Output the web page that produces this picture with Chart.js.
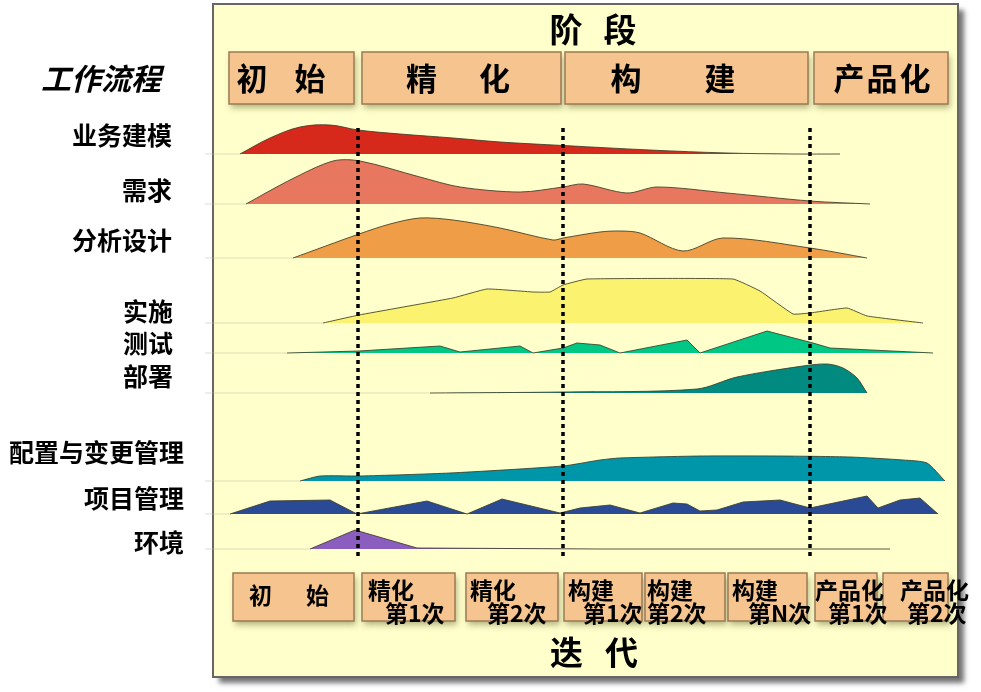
<!DOCTYPE html>
<html>
<head>
<meta charset="utf-8">
<script src="https://cdn.jsdelivr.net/npm/chart.js@4.4.0/dist/chart.umd.min.js"></script>
<style>
html, body { margin: 0; padding: 0; background: #fff; }
#wrap { position: relative; width: 981px; height: 692px; }
</style>
</head>
<body>
<div id="wrap"><canvas id="rup"></canvas></div>
<script>
// 工作流程 (disciplines) and their lane baselines on the vertical axis
var disciplines = ['业务建模', '需求', '分析设计', '实施', '测试', '部署', '配置与变更管理', '项目管理', '环境'];
var laneBase = [154, 204, 258, 323, 353, 393, 481, 514, 549];

// effort profile of each discipline: time position + height above the lane
var bizX = [240, 270, 300, 330, 358, 400, 453, 500, 563, 650, 727, 793, 840];
var bizH = [0, 16, 27, 29, 24, 20, 16, 12, 8.5, 4, 1, 0, 0];
var reqX = [246, 290, 333, 360, 420, 460, 520, 563, 583, 627, 657, 727, 810, 870];
var reqH = [0, 24, 43, 43, 27, 17, 12, 17, 20, 11, 17, 11, 3, 0];
var anaX = [293, 359, 390, 420, 453, 500, 553, 563, 600, 620, 640, 683, 723, 810, 867];
var anaH = [0, 24, 34, 40, 38, 30, 18, 20, 26, 27, 25, 7, 20, 10, 0];
var impX = [323, 359, 453, 487, 533, 550, 563, 587, 733, 760, 793, 810, 847, 867, 923];
var impH = [0, 8, 25, 34, 31, 31, 38, 44, 44, 32, 9, 10, 15, 7, 0];
var tstX = [287, 359, 440, 460, 520, 533, 563, 577, 600, 620, 687, 700, 767, 813, 830, 933];
var tstH = [0, 2, 7, 1, 7, 0, 5, 10, 8, 0, 13, 0, 22, 10, 5, 0];
var depX = [430, 563, 697, 737, 803, 827, 843, 857, 867];
var depH = [0, 1, 4, 16, 27, 29, 25, 15, 0];
var cfgX = [300, 320, 360, 450, 563, 600, 620, 700, 780, 850, 903, 927, 945];
var cfgH = [0, 5, 5, 8, 15, 21, 23, 25, 25, 24, 21, 18, 0];
var pmX = [230, 270, 330, 357, 427, 467, 502, 560, 580, 610, 640, 673, 687, 700, 717, 743, 780, 810, 867, 878, 900, 920, 938];
var pmH = [0, 13, 14, 0, 13, 0, 15, 1, 6, 9, 1, 11, 10, 3, 4, 12, 14, 6, 18, 6, 14, 16, 0];
var envX = [310, 355, 417, 600, 890];
var envH = [0, 19, 1, 0, 0];

var profX = [bizX, reqX, anaX, impX, tstX, depX, cfgX, pmX, envX];
var profH = [bizH, reqH, anaH, impH, tstH, depH, cfgH, pmH, envH];
var curve = [0.35, 0.3, 0.3, 0.1, 0, 0.3, 0.2, 0, 0];
var colors = ['#d7291b', '#e8775f', '#ef9d46', '#fbf36f', '#00c884', '#008a80', '#0096a9', '#2a4a95', '#8a5dbf'];

// 阶段 / 迭代
var phases = ['初始', '精化', '构建', '产品化'];
var phaseEdges = [358, 563, 810];
var iterTop = ['初始', '精化', '精化', '构建', '构建', '构建', '产品化', '产品化'];
var iterBottom = ['', '第1次', '第2次', '第1次', '第2次', '第N次', '第1次', '第2次'];

// layout only (box extents, label anchors)
var phaseBoxes = [[229, 354], [362, 561], [565, 808], [814, 948]];
var phaseGap = [58, 73, 94, 33];
var phaseCenter = [281, 458, 673, 882];
var iterBoxes = [[233, 354], [362, 455], [466, 558], [564, 642], [645, 725], [728, 807], [815, 877], [883, 948]];
var iterTopX = [0, 368, 470, 568, 647, 732, 815, 900];
var iterBotX = [0, 385, 487, 583, 647, 748, 828, 907];
var labelY = [135, 190, 240, 311, 343, 376, 452, 498, 542];
var labelRight = [172, 172, 172, 173, 173, 173, 184, 184, 184];

var CJK = '"Noto Sans CJK SC", "Noto Sans", sans-serif';

var datasets = [];

// phase boundaries (dotted)
phaseEdges.forEach(function (x) {
    datasets.push({
        data: [{x: x, y: 128}, {x: x, y: 560}],
        borderColor: '#000',
        borderWidth: 3.5,
        borderDash: [4, 4],
        borderCapStyle: 'butt',
        pointRadius: 0,
        fill: false,
        order: 0
    });
});

disciplines.forEach(function (name, i) {
    var base = laneBase[i];
    var pts = profX[i].map(function (x, k) { return {x: x, y: base - profH[i][k]}; });
    datasets.push({
        label: name,
        data: pts,
        borderColor: 'rgba(60,60,40,0.85)',
        borderWidth: 1,
        backgroundColor: colors[i],
        pointRadius: 0,
        tension: curve[i],
        fill: {value: base},
        order: 1
    });
    // faint lane guide
    datasets.push({
        data: [{x: 205, y: base}, {x: profX[i][0], y: base}],
        borderColor: 'rgba(190,190,170,0.5)',
        borderWidth: 1,
        pointRadius: 0,
        fill: false,
        order: 2
    });
});

function box(ctx, x0, y0, x1, y1) {
    ctx.save();
    ctx.shadowColor = 'rgba(90,90,40,0.45)';
    ctx.shadowOffsetX = 2;
    ctx.shadowOffsetY = 4;
    ctx.shadowBlur = 6;
    ctx.fillStyle = '#f5c48f';
    ctx.fillRect(x0, y0, x1 - x0, y1 - y0);
    ctx.restore();
    ctx.strokeStyle = '#9c7a56';
    ctx.lineWidth = 1.5;
    ctx.strokeRect(x0, y0, x1 - x0, y1 - y0);
}

function spaced(ctx, text, cx, cy, gap) {
    var chars = text.split('');
    var start = cx - gap * (chars.length - 1) / 2;
    chars.forEach(function (c, k) { ctx.fillText(c, start + k * gap, cy); });
}

var decor = {
    id: 'decor',
    beforeDatasetsDraw: function (chart) {
        var ctx = chart.ctx, xs = chart.scales.x, ys = chart.scales.y;
        var X = function (v) { return xs.getPixelForValue(v); };
        var Y = function (v) { return ys.getPixelForValue(v); };
        ctx.save();
        // panel
        ctx.save();
        ctx.shadowColor = 'rgba(0,0,0,0.55)';
        ctx.shadowOffsetX = 6;
        ctx.shadowOffsetY = 6;
        ctx.shadowBlur = 5;
        ctx.fillStyle = '#ffffcc';
        ctx.fillRect(X(213), Y(4), X(958) - X(213), Y(677) - Y(4));
        ctx.restore();
        ctx.strokeStyle = '#666';
        ctx.lineWidth = 2;
        ctx.strokeRect(X(213), Y(4), X(958) - X(213), Y(677) - Y(4));

        ctx.fillStyle = '#000';
        ctx.textAlign = 'center';
        ctx.textBaseline = 'middle';
        ctx.font = 'bold 33px ' + CJK;
        spaced(ctx, '阶段', X(593), Y(29), 54);
        spaced(ctx, '迭代', X(594), Y(652), 55);

        // phase boxes
        phases.forEach(function (p, i) {
            box(ctx, X(phaseBoxes[i][0]), Y(52), X(phaseBoxes[i][1]), Y(104));
            ctx.fillStyle = '#000';
            ctx.font = 'bold 31px ' + CJK;
            ctx.textAlign = 'center';
            spaced(ctx, p, X(phaseCenter[i]), Y(78), phaseGap[i]);
        });

        // iteration boxes
        iterTop.forEach(function (t, i) {
            box(ctx, X(iterBoxes[i][0]), Y(573), X(iterBoxes[i][1]), Y(621));
        });
        ctx.fillStyle = '#000';
        ctx.font = 'bold 23px ' + CJK;
        iterTop.forEach(function (t, i) {
            if (i === 0) {
                ctx.textAlign = 'center';
                spaced(ctx, t, X(289), Y(595), 57);
                return;
            }
            ctx.textAlign = 'left';
            ctx.fillText(t, X(iterTopX[i]), Y(590));
            ctx.fillText(iterBottom[i], X(iterBotX[i]), Y(613));
        });

        // discipline labels
        ctx.font = 'italic bold 30px ' + CJK;
        ctx.textAlign = 'center';
        ctx.fillText('工作流程', X(101), Y(79));
        ctx.font = 'bold 25px ' + CJK;
        ctx.textAlign = 'right';
        disciplines.forEach(function (d, i) {
            ctx.fillText(d, X(labelRight[i]), Y(labelY[i]));
        });
        ctx.restore();
    }
};

new Chart(document.getElementById('rup'), {
    type: 'line',
    data: {datasets: datasets},
    options: {
        responsive: true,
        maintainAspectRatio: false,
        animation: false,
        layout: {padding: 0},
        scales: {
            x: {type: 'linear', min: 0, max: 981, display: false},
            y: {type: 'linear', min: 0, max: 692, reverse: true, display: false}
        },
        plugins: {
            legend: {display: false},
            tooltip: {enabled: false},
            title: {display: false}
        }
    },
    plugins: [decor]
});
</script>
</body>
</html>
